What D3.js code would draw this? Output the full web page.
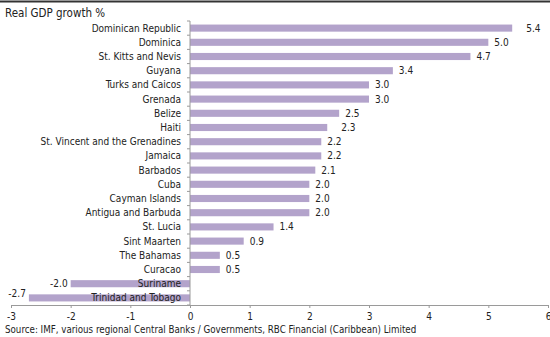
<!DOCTYPE html>
<html>
<head>
<meta charset="utf-8">
<script src="https://cdn.jsdelivr.net/npm/d3@7"></script>
<style>
  html, body { margin: 0; padding: 0; background: #fff; }
  svg { display: block; }
  text { font-family: "DejaVu Sans Condensed", "DejaVu Sans", sans-serif; fill: #222; }
</style>
</head>
<body>
<svg id="chart" width="550" height="337"></svg>
<script>
// Real GDP growth by country, %
const countries = [
  "Dominican Republic", "Dominica", "St. Kitts and Nevis", "Guyana",
  "Turks and Caicos", "Grenada", "Belize", "Haiti",
  "St. Vincent and the Grenadines", "Jamaica", "Barbados", "Cuba",
  "Cayman Islands", "Antigua and Barbuda", "St. Lucia", "Sint Maarten",
  "The Bahamas", "Curacao", "Suriname", "Trinidad and Tobago"
];
const growth = [
  5.4, 5.0, 4.7, 3.4,
  3.0, 3.0, 2.5, 2.3,
  2.2, 2.2, 2.1, 2.0,
  2.0, 2.0, 1.4, 0.9,
  0.5, 0.5, -2.0, -2.7
];
const xTicks = [-3, -2, -1, 0, 1, 2, 3, 4, 5, 6];
const title = "Real GDP growth %";
const source = "Source: IMF, various regional Central Banks / Governments, RBC Financial (Caribbean) Limited";

const data = countries.map((c, i) => ({ country: c, value: growth[i] }));

// plain hyphen for negative numbers
const locale = d3.formatLocale({ decimal: ".", thousands: ",", grouping: [3], currency: ["$", ""], minus: "-" });

const svg = d3.select("#chart");
const W = 550;

const x = d3.scaleLinear().domain([-3, 6]).range([11, 548]);
const y = d3.scaleBand().domain(countries).range([21, 305]).paddingInner(0.5).paddingOuter(0.25);

const barColor = "#b3a3cb";
const axisColor = "#9a9a9a";

// top rule
svg.append("line")
  .attr("x1", 0).attr("x2", W).attr("y1", 1.5).attr("y2", 1.5)
  .attr("stroke", "#333").attr("stroke-width", 2);

// title
svg.append("text")
  .attr("x", 5).attr("y", 17)
  .style("font-size", "11.5px")
  .text(title);

// bars
svg.append("g").selectAll("rect")
  .data(data)
  .join("rect")
  .attr("x", d => x(Math.min(0, d.value)))
  .attr("width", d => Math.abs(x(d.value) - x(0)))
  .attr("y", d => y(d.country))
  .attr("height", y.bandwidth())
  .attr("fill", barColor);

// x axis
const xAxis = svg.append("g")
  .attr("transform", `translate(0,${305})`)
  .call(d3.axisBottom(x).tickValues(xTicks).tickFormat(locale.format("d")).tickSizeInner(3).tickSizeOuter(0));
xAxis.select(".domain").attr("stroke", axisColor);
xAxis.selectAll(".tick line").attr("stroke", axisColor);
xAxis.selectAll(".tick text").attr("dy", "0.9em").style("font-size", "10px").attr("fill", "#222")
  .style("font-family", "\"DejaVu Sans Condensed\", \"DejaVu Sans\", sans-serif");

// y axis at zero, with ticks at band boundaries
const step = y.step();
const yTop = y.range()[0], yBot = y.range()[1];
const yAxisG = svg.append("g");
yAxisG.append("line")
  .attr("x1", x(0)).attr("x2", x(0)).attr("y1", yTop).attr("y2", yBot)
  .attr("stroke", axisColor);
yAxisG.selectAll("line.tk")
  .data(d3.range(countries.length + 1))
  .join("line")
  .attr("class", "tk")
  .attr("x1", x(0) - 3).attr("x2", x(0))
  .attr("y1", i => yTop + i * step).attr("y2", i => yTop + i * step)
  .attr("stroke", axisColor);

// category labels
svg.append("g").selectAll("text")
  .data(data)
  .join("text")
  .attr("x", x(0) - 9)
  .attr("y", d => y(d.country) + y.bandwidth() / 2)
  .attr("dy", "0.35em")
  .attr("text-anchor", "end")
  .style("font-size", "10px")
  .text(d => d.country);

// value labels
const fmt = locale.format(".1f");
svg.append("g").selectAll("text")
  .data(data)
  .join("text")
  .attr("x", d => d.value >= 0 ? x(d.value) + (d.value === 5.4 || d.value === 2.3 ? 14 : 6) : x(d.value) - 3)
  .attr("y", d => y(d.country) + y.bandwidth() / 2 - (d.value < -2.5 ? 4 : 0))
  .attr("dy", "0.35em")
  .attr("text-anchor", d => d.value >= 0 ? "start" : "end")
  .style("font-size", "10px")
  .text(d => fmt(d.value));

// source note
svg.append("text")
  .attr("x", 5).attr("y", 333)
  .style("font-size", "9.7px")
  .text(source);
</script>
</body>
</html>
